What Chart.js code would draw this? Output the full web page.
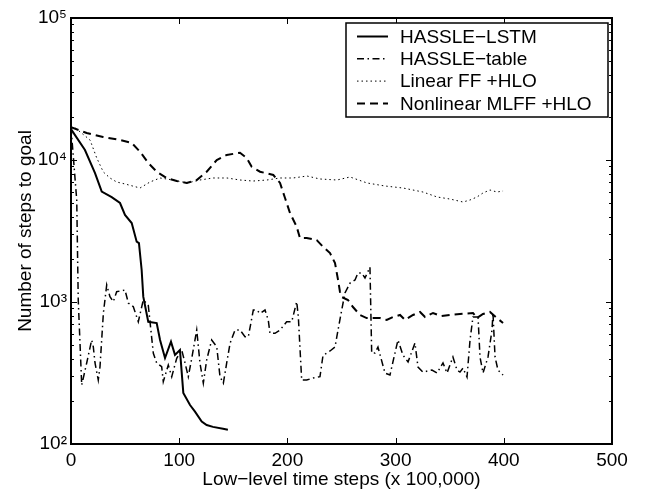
<!DOCTYPE html>
<html>
<head>
<meta charset="utf-8">
<script src="https://cdn.jsdelivr.net/npm/chart.js@4.4.1/dist/chart.umd.min.js"></script>
<style>
  body { margin: 0; background: #fff; }
  canvas { display: block; }
</style>
</head>
<body>
<canvas id="chart" width="646" height="491"></canvas>
<script>
const xTickValues = [0, 100, 200, 300, 400, 500];
const yTickValues = [100, 1000, 10000, 100000];
const yTickLabels = ["10²", "10³", "10⁴", "10⁵"];
const seriesLabels = ["HASSLE−LSTM", "HASSLE−table", "Linear FF +HLO", "Nonlinear MLFF +HLO"];

const lstmX = [0, 12.9, 22.2, 28.4, 37.6, 45.3, 49.9, 56.1, 60.7, 62.8, 65.3, 66.8, 71.4, 79.2, 82.3, 86.9, 92.4, 96.1, 100.7, 103.8, 110.0, 114.6, 120.8, 125.4, 131.2, 140.5, 145.0];
const lstmY = [16500, 11750, 8090, 5990, 5480, 4980, 4100, 3600, 2660, 2600, 1680, 1090, 726, 711, 540, 403, 525, 424, 459, 229, 188, 169, 144, 136, 132, 128, 126];

const tableX = [0, 5.3, 6.7, 9.9, 14.5, 19.1, 20.6, 22.2, 25.2, 26.8, 29.9, 33.0, 36.0, 39.1, 42.2, 49.9, 53.0, 57.6, 62.2, 66.8, 71.4, 76.1, 79.2, 83.8, 85.3, 89.9, 93.1, 97.7, 102.3, 105.4, 108.4, 111.6, 116.2, 119.2, 122.3, 125.4, 130.0, 134.7, 137.7, 140.8, 143.9, 147.0, 151.6, 156.2, 160.8, 163.9, 168.5, 171.6, 174.7, 179.3, 182.3, 183.9, 188.5, 193.2, 199.3, 204.0, 208.6, 210.1, 213.2, 217.8, 224.0, 230.1, 232.9, 239.4, 244.0, 246.8, 250.2, 253.2, 257.9, 262.5, 265.2, 268.7, 271.7, 276.3, 277.9, 280.9, 283.7, 290.2, 294.8, 299.4, 302.2, 306.8, 311.5, 317.9, 320.7, 325.3, 333.6, 338.3, 343.8, 347.5, 353.0, 356.7, 359.5, 362.3, 366.0, 368.8, 371.5, 376.2, 378.0, 380.8, 385.4, 389.1, 390.0, 391.9, 394.6, 399.3];
const tableY = [17000, 5220, 1030, 260, 372, 540, 484, 372, 282, 350, 832, 1318, 1090, 1005, 1182, 1215, 984, 926, 726, 1033, 952, 435, 372, 350, 275, 360, 298, 401, 459, 372, 298, 401, 635, 372, 268, 391, 540, 484, 298, 268, 372, 512, 635, 635, 570, 570, 878, 878, 832, 878, 747, 602, 602, 635, 726, 726, 1005, 788, 282, 282, 292, 298, 420, 452, 482, 635, 878, 1157, 1360, 1430, 1600, 1600, 1475, 1760, 437, 437, 482, 316, 306, 437, 540, 423, 378, 514, 348, 321, 332, 316, 372, 316, 410, 332, 321, 343, 296, 540, 784, 784, 410, 316, 410, 635, 837, 410, 332, 306];

const linearX = [0, 4.0, 17.6, 23.8, 29.9, 36.0, 42.2, 49.9, 63.8, 73.0, 82.3, 94.3, 107.2, 119.2, 131.2, 144.2, 156.2, 168.2, 181.1, 193.2, 205.2, 218.1, 230.1, 245.8, 257.9, 273.6, 290.2, 306.8, 325.3, 338.3, 350.3, 362.3, 368.8, 375.2, 380.8, 387.2, 393.7, 399.3];
const linearY = [17000, 16800, 13830, 10330, 8230, 7470, 7000, 6780, 6350, 7000, 7470, 7230, 6890, 7230, 7470, 7470, 7230, 7110, 7230, 7470, 7470, 7710, 7350, 7230, 7590, 6890, 6560, 6350, 5950, 5490, 5310, 5060, 5230, 5490, 5860, 6150, 5950, 6050];

const mlffX = [0, 14.5, 29.6, 45.3, 56.1, 63.8, 71.4, 79.2, 88.4, 97.7, 106.9, 116.2, 125.4, 134.7, 143.9, 156.2, 162.4, 167.0, 174.7, 187.0, 193.2, 197.8, 202.4, 208.6, 211.6, 217.8, 227.1, 232.9, 239.4, 244.0, 246.8, 248.6, 250.2, 256.0, 260.6, 267.1, 273.3, 285.6, 291.8, 297.6, 304.1, 308.7, 316.1, 322.6, 327.2, 334.6, 342.0, 350.3, 359.5, 371.5, 375.2, 380.8, 387.2, 393.7, 399.3];
const mlffY = [17000, 15500, 14520, 13830, 13180, 11440, 9530, 8270, 7470, 7110, 6890, 7230, 8270, 10000, 10850, 11250, 10330, 8970, 8270, 7840, 6890, 5400, 4230, 3390, 2820, 2820, 2730, 2450, 2210, 1880, 1430, 1176, 1084, 1033, 922, 810, 771, 771, 747, 784, 810, 747, 810, 851, 784, 837, 797, 810, 823, 837, 771, 823, 851, 771, 711];

const FONT = "'Liberation Sans', Arial, Helvetica, sans-serif";

function points(xs, ys) {
  return xs.map((x, i) => ({ x: x, y: ys[i] }));
}

function lineSet(label, xs, ys, width, dash) {
  return {
    label: label,
    data: points(xs, ys),
    borderColor: "#000",
    backgroundColor: "#000",
    borderWidth: width,
    borderDash: dash,
    pointRadius: 0,
    tension: 0,
    fill: false,
  };
}

// box, inward ticks and boxed legend, MATLAB style
const framePlugin = {
  id: "frame",
  afterDraw(chart) {
    const { ctx, chartArea: a, scales } = chart;
    const sx = scales.x;
    const sy = scales.y;
    ctx.save();
    ctx.strokeStyle = "#000";
    ctx.setLineDash([]);
    ctx.lineWidth = 1;

    function seg(x1, y1, x2, y2) {
      ctx.beginPath();
      ctx.moveTo(x1, y1);
      ctx.lineTo(x2, y2);
      ctx.stroke();
    }

    xTickValues.forEach((v) => {
      const px = Math.round(sx.getPixelForValue(v)) + 0.5;
      seg(px, a.bottom, px, a.bottom - 6);
      seg(px, a.top, px, a.top + 6);
    });

    for (let d = 2; d <= 5; d++) {
      for (let m = 1; m <= 9; m++) {
        const v = m * Math.pow(10, d);
        if (v > 100000) break;
        const py = Math.round(sy.getPixelForValue(v)) + 0.5;
        const len = m === 1 ? 6 : 3;
        seg(a.left, py, a.left + len, py);
        seg(a.right, py, a.right - len, py);
      }
    }

    ctx.lineWidth = 2;
    ctx.strokeRect(a.left, a.top, a.right - a.left, a.bottom - a.top);

    // legend
    const lx = a.right - 266;
    const ly = a.top + 5;
    const lw = 262;
    const lh = 94;
    ctx.fillStyle = "#fff";
    ctx.fillRect(lx, ly, lw, lh);
    ctx.lineWidth = 1.5;
    ctx.strokeRect(lx, ly, lw, lh);
    ctx.font = "19px " + FONT;
    ctx.textBaseline = "middle";
    ctx.textAlign = "left";
    ctx.fillStyle = "#000";
    chart.data.datasets.forEach((ds, i) => {
      const cy = ly + 13.5 + i * 22.3;
      ctx.lineWidth = ds.borderWidth;
      ctx.setLineDash(ds.borderDash || []);
      seg(lx + 11, cy, lx + 42, cy);
      ctx.setLineDash([]);
      ctx.fillText(ds.label, lx + 54, cy + 1);
    });
    ctx.restore();
  },
};

new Chart(document.getElementById("chart").getContext("2d"), {
  type: "line",
  data: {
    datasets: [
      lineSet(seriesLabels[0], lstmX, lstmY, 2, []),
      lineSet(seriesLabels[1], tableX, tableY, 1.5, [7, 3.5, 1.5, 3.5]),
      lineSet(seriesLabels[2], linearX, linearY, 1, [1.5, 3]),
      lineSet(seriesLabels[3], mlffX, mlffY, 2, [8, 5]),
    ],
  },
  options: {
    responsive: false,
    devicePixelRatio: 1,
    animation: false,
    layout: { padding: { left: 0, right: 34, top: 18, bottom: 0 } },
    plugins: {
      legend: { display: false },
      tooltip: { enabled: false },
    },
    scales: {
      x: {
        type: "linear",
        min: 0,
        max: 500,
        afterBuildTicks: (s) => {
          s.ticks = xTickValues.map((v) => ({ value: v }));
        },
        afterFit: (s) => {
          s.height = 47;
        },
        grid: { display: false, drawTicks: false },
        border: { display: false },
        ticks: {
          color: "#000",
          padding: 5,
          maxRotation: 0,
          autoSkip: false,
          font: { family: FONT, size: 19 },
        },
        title: {
          display: true,
          text: "Low−level time steps (x 100,000)",
          color: "#000",
          font: { family: FONT, size: 19 },
          padding: { top: 0, bottom: 0 },
        },
      },
      y: {
        type: "logarithmic",
        min: 100,
        max: 100000,
        afterBuildTicks: (s) => {
          s.ticks = yTickValues.map((v) => ({ value: v }));
        },
        afterFit: (s) => {
          s.width = 71;
        },
        grid: { display: false, drawTicks: false },
        border: { display: false },
        ticks: {
          color: "#000",
          padding: 4,
          autoSkip: false,
          font: { family: FONT, size: 19 },
          callback: (v, i) => yTickLabels[i],
        },
        title: {
          display: true,
          text: "Number of steps to goal",
          color: "#000",
          font: { family: FONT, size: 19 },
          padding: { top: 14, bottom: 4 },
        },
      },
    },
  },
  plugins: [framePlugin],
});
</script>
</body>
</html>
